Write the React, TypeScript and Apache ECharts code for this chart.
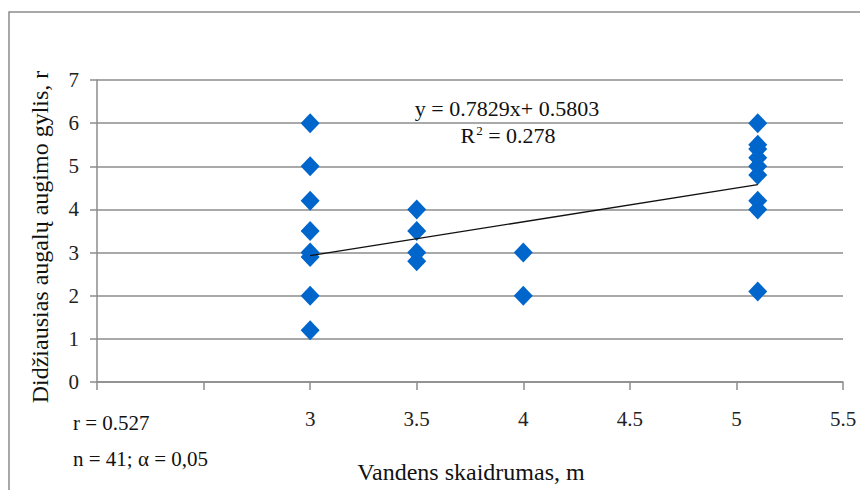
import { useEffect, useRef } from 'react';
import * as echarts from 'echarts';

// Water clarity (m) for each sampling point
const clarity = [
  3, 3, 3, 3, 3, 3, 3, 3,
  3.5, 3.5, 3.5, 3.5,
  4, 4,
  5.1, 5.1, 5.1, 5.1, 5.1, 5.1, 5.1, 5.1, 5.1,
];
// Greatest depth of plant growth at the same points
const depth = [
  6, 5, 4.2, 3.5, 3.0, 2.9, 2.0, 1.2,
  4.0, 3.5, 3.0, 2.8,
  3.0, 2.0,
  6.0, 5.5, 5.4, 5.2, 5.0, 4.8, 4.2, 4.0, 2.1,
];

// Linear trend
const slope = 0.7829;
const intercept = 0.5803;
const rSquared = '0.278';
const statsLines = ['r = 0.527', 'n = 41; α = 0,05'];

const xAxisTitle = 'Vandens skaidrumas, m';
const yAxisTitle = 'Didžiausias augalų augimo gylis, r';

const SERIF = '"Liberation Serif", "Times New Roman", serif';

export default function App() {
  const ref = useRef<HTMLDivElement>(null);

  useEffect(() => {
    if (!ref.current) return;
    const chart = echarts.init(ref.current, undefined, { renderer: 'svg' });

    const points = clarity.map((x, i) => [x, depth[i]]);
    const xMin = Math.min(...clarity);
    const xMax = Math.max(...clarity);
    const trend = [
      [xMin, slope * xMin + intercept],
      [xMax, slope * xMax + intercept],
    ];

    chart.setOption({
      animation: false,
      backgroundColor: '#ffffff',
      grid: { left: 97, right: 17, top: 80, bottom: 108, containLabel: false },
      xAxis: {
        type: 'value',
        min: 2,
        max: 5.5,
        interval: 0.5,
        axisLine: { show: true, lineStyle: { color: '#8c8c8c', width: 1.5 } },
        axisTick: { show: true, length: 8, inside: false, lineStyle: { color: '#8c8c8c', width: 1.5 } },
        splitLine: { show: false },
        axisLabel: {
          margin: 26,
          fontFamily: SERIF,
          fontSize: 21,
          color: '#222',
          formatter: (v: number) => (v < 3 ? '' : String(v)),
        },
      },
      yAxis: {
        type: 'value',
        min: 0,
        max: 7,
        interval: 1,
        axisLine: { show: true, lineStyle: { color: '#8c8c8c', width: 1.5 } },
        axisTick: { show: true, length: 7, lineStyle: { color: '#8c8c8c', width: 1.5 } },
        splitLine: { show: true, lineStyle: { color: '#8c8c8c', width: 1.5 } },
        axisLabel: {
          margin: 18,
          fontFamily: SERIF,
          fontSize: 21,
          color: '#222',
        },
      },
      series: [
        {
          type: 'scatter',
          data: points,
          symbol: 'diamond',
          symbolSize: [19, 20],
          itemStyle: { color: '#0066cc', opacity: 1 },
          z: 3,
        },
        {
          type: 'line',
          data: trend,
          symbol: 'none',
          lineStyle: { color: '#111', width: 1.3 },
          z: 4,
        },
      ],
      graphic: [
        {
          type: 'rect',
          shape: { x: 9, y: 12, width: 900, height: 600 },
          style: { fill: 'none', stroke: '#8c8c8c', lineWidth: 1.5 },
          silent: true,
        },
        {
          type: 'text',
          x: 507,
          y: 108,
          style: {
            text: `y = ${slope}x+ ${intercept}`,
            font: `22px ${SERIF}`,
            fill: '#111',
            align: 'center',
            verticalAlign: 'middle',
          },
        },
        {
          type: 'text',
          x: 508,
          y: 135,
          style: {
            text: `{b|R}{s|2}{b| = ${rSquared}}`,
            align: 'center',
            verticalAlign: 'middle',
            rich: {
              b: { font: `22px ${SERIF}`, fill: '#111', verticalAlign: 'bottom' },
              s: { font: `13px ${SERIF}`, fill: '#111', verticalAlign: 'top', padding: [0, 0, 10, 1] },
            },
          },
        },
        {
          type: 'text',
          x: 73,
          y: 423,
          style: {
            text: statsLines[0],
            font: `21px ${SERIF}`,
            fill: '#111',
            align: 'left',
            verticalAlign: 'middle',
          },
        },
        {
          type: 'text',
          x: 73,
          y: 459,
          style: {
            text: statsLines[1],
            font: `21px ${SERIF}`,
            fill: '#111',
            align: 'left',
            verticalAlign: 'middle',
          },
        },
        {
          type: 'text',
          x: 471,
          y: 472,
          style: {
            text: xAxisTitle,
            font: `24px ${SERIF}`,
            fill: '#111',
            align: 'center',
            verticalAlign: 'middle',
          },
        },
        {
          type: 'text',
          x: 40,
          y: 237,
          rotation: Math.PI / 2,
          style: {
            text: yAxisTitle,
            font: `24px ${SERIF}`,
            fill: '#111',
            align: 'center',
            verticalAlign: 'middle',
          },
        },
      ],
    });

    return () => chart.dispose();
  }, []);

  return (
    <div
      ref={ref}
      style={{ position: 'fixed', left: 0, top: 0, width: 860, height: 490 }}
    />
  );
}
